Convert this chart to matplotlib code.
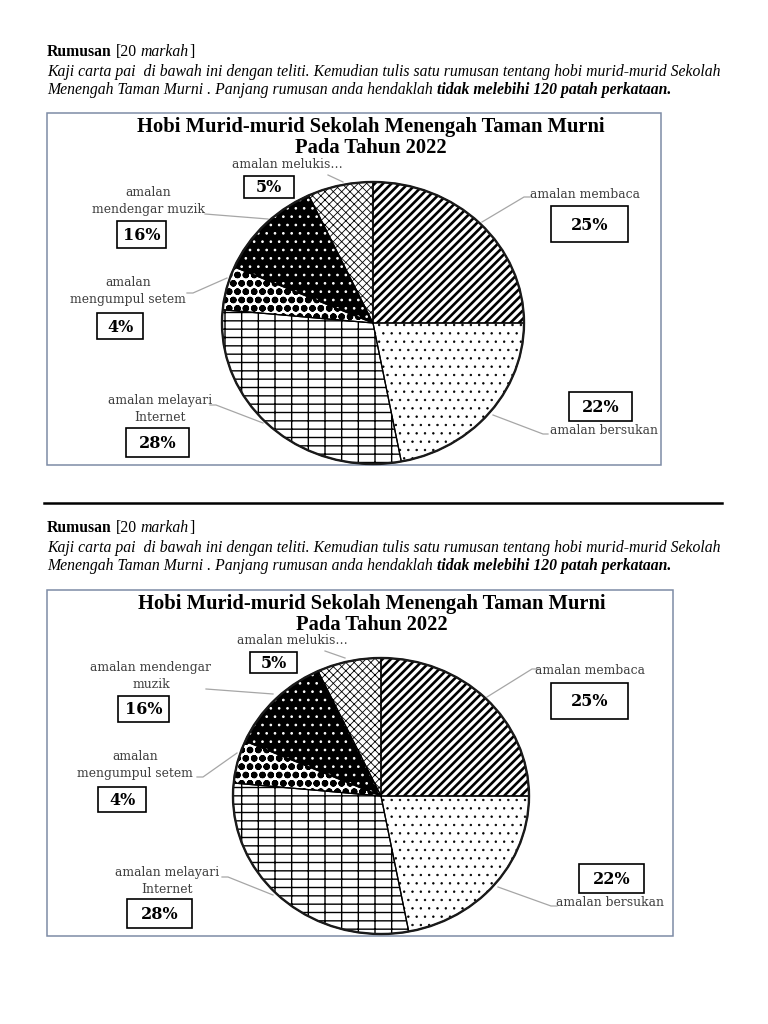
"""Worksheet page: two copies of the 'Rumusan' task with the hobby pie chart.

Page is drawn in pixel coordinates (0..768 x 0..1024, y downwards) on one
full-figure axes; each pie sits in its own axes stretched to the ellipse seen
in the scan.
"""

import matplotlib

matplotlib.use("Agg")
import matplotlib.pyplot as plt  # noqa: E402
from matplotlib.patches import Ellipse, Rectangle  # noqa: E402

W, H = 768, 1024
SERIF = "Liberation Serif"
LABEL_FONT = "DejaVu Serif"

# ---- data -----------------------------------------------------------------
PCT_TEXT = ["25%", "22%", "28%", "4%", "16%", "5%"]
# share of the circle each wedge takes in the drawing
WEDGE_SHARE = [25, 22, 29.5, 5, 11.5, 7]
NAMES_TOP = ["amalan membaca", "amalan bersukan", "amalan melayari\nInternet",
             "amalan\nmengumpul setem", "amalan\nmendengar muzik", "amalan melukis…"]
NAMES_BOTTOM = ["amalan membaca", "amalan bersukan", "amalan melayari\nInternet",
                "amalan\nmengumpul setem", "amalan mendengar\nmuzik", "amalan melukis…"]
TITLE = ["Hobi Murid-murid Sekolah Menengah Taman Murni", "Pada Tahun 2022"]
# (text, weight, style, space before)
HEAD_LINES = [
    [("Rumusan", "bold", "normal", False), ("[20", "normal", "normal", True),
     ("markah", "normal", "italic", True), ("]", "normal", "normal", False)],
    [("Kaji carta pai  di bawah ini dengan teliti. Kemudian tulis satu rumusan "
      "tentang hobi murid-murid Sekolah", "normal", "italic", False)],
    [("Menengah Taman Murni . Panjang rumusan anda hendaklah", "normal", "italic", False),
     ("tidak melebihi 120 patah perkataan.", "bold", "italic", True)],
]

# ---- styles (face, hatch, hatch colour, hatch linewidth) -----------------------
FILLS = [
    ("white", "////", "black", 1.9),  # membaca
    ("white", "..", "black", 0.5),    # bersukan
    ("white", "--|", "black", 1.0),   # melayari Internet
    ("white", "oo", "black", 2.3),    # mengumpul setem (rings stroked solid)
    ("black", "..", "white", 0.7),    # mendengar muzik
    ("white", "xxxx", "black", 0.6),  # melukis
]

# ---- layout, pixels -------------------------------------------------------
BLOCKS = [
    dict(head_y=[56, 76, 94], box=(47, 113, 661, 465), title_x=371, title_y=[127, 148],
         pie=(373, 323, 151, 141), names=NAMES_TOP,
         name_xy=[(585, 195), (604, 431), (160, 409), (128, 291), (148, 201), (287, 164)],
         pct_box=[(551, 206, 628, 242), (569, 392, 632, 421), (126, 428, 189, 457),
                  (97, 313, 143, 339), (117, 221, 166, 248), (244, 176, 294, 198)],
         leaders=[[(530, 197), (524, 197), (482, 222)], [(548, 434), (543, 434), (493, 415)],
                  [(210, 405), (216, 405), (263, 423)], [(187, 293), (193, 293), (227, 278)],
                  [(205, 214), (268, 219)], [(328, 175), (343, 182)]]),
    dict(head_y=[532, 552, 570], box=(47, 590, 673, 936), title_x=372, title_y=[604, 625],
         pie=(381, 796, 148, 138), names=NAMES_BOTTOM,
         name_xy=[(590, 670), (610, 902), (167, 881), (135, 765), (151, 676), (292, 641)],
         pct_box=[(551, 683, 628, 719), (579, 864, 644, 893), (127, 899, 192, 928),
                  (98, 787, 146, 812), (118, 696, 169, 722), (250, 652, 297, 673)],
         leaders=[[(538, 669), (532, 669), (487, 697)], [(557, 906), (551, 906), (498, 887)],
                  [(222, 877), (228, 877), (273, 895)], [(197, 777), (203, 777), (237, 753)],
                  [(206, 689), (273, 694)], [(325, 651), (345, 658)]]),
]


def write_runs(ax, renderer, x, y, runs, size):
    """Write mixed-style pieces one after another on a baseline."""
    for text, weight, style, gap in runs:
        if gap:
            a = ax.text(0, 0, "a a", fontsize=size, family=SERIF, weight=weight, style=style)
            b = ax.text(0, 0, "aa", fontsize=size, family=SERIF, weight=weight, style=style)
            x += a.get_window_extent(renderer).width - b.get_window_extent(renderer).width
            a.remove()
            b.remove()
        t = ax.text(x, y, text, fontsize=size, family=SERIF, weight=weight, style=style,
                    ha="left", va="baseline")
        x += t.get_window_extent(renderer).width


def draw_pie(fig, cx, cy, rx, ry):
    ax = fig.add_axes([(cx - rx) / W, 1 - (cy + ry) / H, 2 * rx / W, 2 * ry / H])
    wedges, _ = ax.pie(WEDGE_SHARE, startangle=90, counterclock=False,
                       wedgeprops=dict(linewidth=0))
    for w, (face, hatch, hcol, hlw) in zip(wedges, FILLS):
        w.set_facecolor(face)
        w.set_edgecolor(hcol)  # hatch takes the edge colour
        w.set_hatch(hatch)
        if hasattr(w, "set_hatch_linewidth"):
            w.set_hatch_linewidth(hlw)
    outlines, _ = ax.pie(WEDGE_SHARE, startangle=90, counterclock=False,
                         wedgeprops=dict(fill=False, edgecolor="black", linewidth=0.9))
    for w in outlines:
        w.set_clip_on(False)
    rim = Ellipse((0, 0), 2, 2, fill=False, edgecolor="#1a1a1a", linewidth=1.7, clip_on=False)
    ax.add_patch(rim)
    ax.set_aspect("auto")
    ax.set_xlim(-1, 1)
    ax.set_ylim(-1, 1)
    ax.axis("off")


def main() -> None:
    fig = plt.figure(figsize=(W / 100, H / 100), dpi=100)
    page = fig.add_axes([0, 0, 1, 1])
    page.set_xlim(0, W)
    page.set_ylim(H, 0)
    page.axis("off")
    renderer = fig.canvas.get_renderer()

    for blk in BLOCKS:
        for runs, y in zip(HEAD_LINES, blk["head_y"]):
            write_runs(page, renderer, 47, y, runs, 11.3)

        x0, y0, x1, y1 = blk["box"]
        page.add_patch(Rectangle((x0, y0), x1 - x0, y1 - y0, fill=False,
                                 edgecolor="#7d8ca6", linewidth=1.1))
        for line, y in zip(TITLE, blk["title_y"]):
            page.text(blk["title_x"], y, line, family=SERIF, weight="bold", fontsize=14.8,
                      ha="center", va="center")

        for pts in blk["leaders"]:
            xs, ys = zip(*pts)
            page.plot(xs, ys, color="#a6a6a6", linewidth=0.9)

        for name, (nx, ny) in zip(blk["names"], blk["name_xy"]):
            page.text(nx, ny, name, family=LABEL_FONT, fontsize=8.9, color="#404040",
                      ha="center", va="center", multialignment="center", linespacing=1.4)
        for pct, (bx0, by0, bx1, by1) in zip(PCT_TEXT, blk["pct_box"]):
            page.add_patch(Rectangle((bx0, by0), bx1 - bx0, by1 - by0, facecolor="white",
                                     edgecolor="black", linewidth=1.2))
            page.text((bx0 + bx1) / 2, (by0 + by1) / 2 + 1, pct, family=LABEL_FONT,
                      weight="bold", fontsize=11.5, ha="center", va="center")

        draw_pie(fig, *blk["pie"])

    page.plot([44, 722], [503, 503], color="black", linewidth=1.8)
    fig.savefig("out.png", dpi=100, facecolor="white")


if __name__ == "__main__":
    main()
